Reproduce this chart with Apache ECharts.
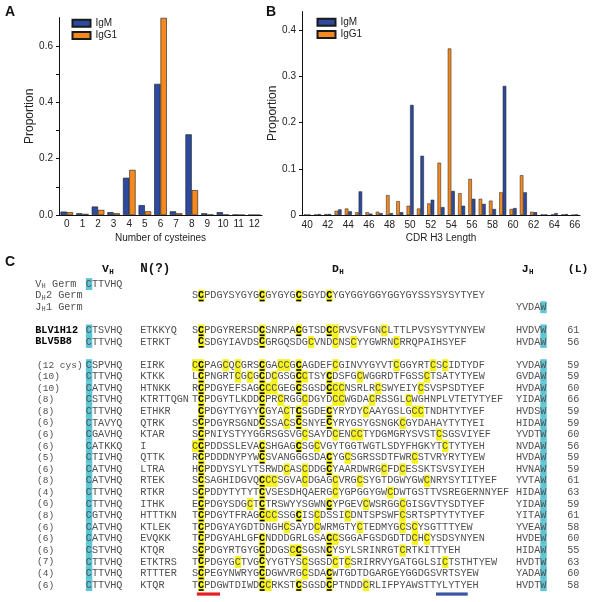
<!DOCTYPE html>
<html><head><meta charset="utf-8">
<script src="https://cdn.jsdelivr.net/npm/echarts@6/dist/echarts.min.js"></script>
<style>html,body{margin:0;padding:0;background:#fff}#c{width:597px;height:602px}</style>
</head><body><div id="c"></div>
<script>
// ---------- Panel A data ----------
const cysCategories = ['0','1','2','3','4','5','6','7','8','9','10','11','12'];
const cysIgM  = [0.012,0.006,0.030,0.010,0.132,0.035,0.465,0.013,0.286,0.006,0.010,0.001,0.000];
const cysIgG1 = [0.010,0.004,0.018,0.006,0.160,0.013,0.699,0.006,0.088,0.001,0.001,0.000,0.000];

// ---------- Panel B data ----------
const lenCategories = ['40','41','42','43','44','45','46','47','48','49','50','51','52','53','54','55','56','57','58','59','60','61','62','63','64','65','66'];
const lenIgM  = [0.001,0.002,0.002,0.012,0.008,0.051,0.003,0.004,0.004,0.006,0.238,0.128,0.033,0.017,0.052,0.020,0.035,0.024,0.013,0.279,0.015,0.049,0.006,0.001,0.004,0.002,0.001];
const lenIgG1 = [0.001,0.001,0.002,0.009,0.014,0.006,0.006,0.007,0.043,0.030,0.020,0.014,0.025,0.113,0.360,0.047,0.078,0.035,0.031,0.049,0.013,0.086,0.007,0.001,0.001,0.001,0.000];

// ---------- Panel C data ----------
const germLabels = [['V','H',' Germ'],['D','H','2 Germ'],['J','H','1 Germ']];
const germVH = 'CTTVHQ';
const germDH = 'SCPDGYSYGYGCGYGYGCSGYDCYGYGGYGGYGGYGYSSYSYSYTYEY';
const germJH = 'YVDAW';
const blvNames = ['BLV1H12','BLV5B8'];
const blvVH = ['CTSVHQ','CTTVHQ'];
const blvN  = ['ETKKYQ','ETRKT'];
const blvDH = ['SCPDGYRERSDCSNRPACGTSDCCRVSVFGNCLTTLPVSYSYTYNYEW',' CSDGYIAVDSCGRGQSDGCVNDCNSCYYGWRNCRRQPAIHSYEF'];
const blvJH = ['HVDVW','HVDAW'];
const blvL  = ['61','56'];
const cLabels = ['(12 cys)','(10)','(10)','(8)','(8)','(6)','(6)','(6)','(5)','(6)','(8)','(4)','(6)','(8)','(6)','(6)','(6)','(7)','(4)','(6)'];
const cVH = ['CSPVHQ','CTTVHQ','CATVHQ','CSTVHQ','CTTVHQ','CTAVYQ','CGAVHQ','CATKKQ','CTIVHQ','CATVHQ','CATVHQ','CTTVHQ','CTTVHQ','CGTVHQ','CATVHQ','CATVHQ','CSTVHQ','CTTVHQ','CTTVHQ','CTTVHQ'];
const cN = ['EIRK','KTKK','HTNKK','KTRTTQGN','ETHKR','QTRK','KTAR','I','QTTK','LTRA','RTEK','RTKR','ITHK','HTTTKN','KTLEK','EVQKK','KTQR','ETKTRS','RTTTER','KTQR'];
const cDH = [
'CCPAGCQCGRSCGACCGCAGDEFCGINVYGYVTCGGYRTCSCIDTYDF',
'LCPNGRTCGCGCDCGSGCCTSYCDSFGCWGGRDTFGSSCTSATYTYEW',
'RCPDGYEFSAGCCCGEGCSGSDCCCNSRLRCSWYEIYCSVSPSDTYEF',
'TCPDGYTLKDDCPRCRGGCDGYDCCWGDACRSSGLCWGHNPLVTETYTYEF',
' CPDGYTYGYYCGYACTCSGDECYRYDYCAAYGSLGCCTNDHTYTYEF',
'SCPDGYRSGNDCSSACSCSNYECYRYGSYGSNGKCGYDAHAYTYTYEI',
'SCPNIYSTYYGGRSGSVGCSAYDCENCCTYDGMGRYSVSTCSGSVIYEF',
'CCPDDSSLEVACSHGAGCSGCVGYTGGTWGTLSDYFHGKYTCTYTYEH',
'RCPDDDNYPYWCSVANGGGSDACYGCSGRSSDTFWRCSTVRYRYTYEW',
'HCPDDYSYLYTSRWDCASCDDGCYAARDWRGCFDCESSKTSVSYIYEH',
'SCSAGHIDGVQCCCSGVACDGAGCVRGCSYGTDGWYGWCNRYSYTITYEF',
'SCPDDYTYTYTCVSESDHQAERGCYGPGGYGWCDWTGSTTVSREGERNNYEF',
'ECPDGYSDGCTCTRSWYYSGWNCYPGEVCWSRGGCGISGVTYSDTYEF',
'TCPDGYTFRAGCCCSSGCISCDSSICDNTSPSWFCSRTSPTYTYTYEF',
'TCPDGYAYGDTDNGHCSAYDCWRMGTYCTEDMYGCSCYSGTTTYEW',
'TCPDGYAHLGFCNDDDGRLGSACCSGGAFGSDGDTDCHCYSDSYNYEN',
'SCPDGYRTGYGCDDGSCCSGSNCYSYLSRINRGTCRTKITTYEH',
'TCPDGYGCTVGCYYGTYSCSGSDCTCSRIRRVYGATGGLSICTSTHTYEW',
'SCPEGYNWRYGCDGWVRGCSDACWTGDTDGARGEYGGDGSVRTSYEW',
'TCPDGWTDIWDCCRKSTCSGSDCPTNDDCRLIFPYAWSTTYLYTYEH'
];
const cJH = ['YVDAW','GVDAW','HVDAW','YIDAW','HVDSW','HIDAW','YVDTW','NVDAW','HVDAW','HVNAW','YVTAW','HIDAW','YIDAW','YITAW','YVEAW','HVDEW','HIDAW','HVDTW','YADAW','HVDTW'];
const cL = ['59','59','60','66','59','59','60','56','59','59','61','63','59','61','58','60','55','63','60','58'];
const conservedCols = [1,11,17,22];

// ---------- styling / layout ----------
const BLUE = '#2d4a9e', ORANGE = '#f5891f', YEL = '#f6f21a', CYAN = '#5ec5d5', GRAY = '#505050';
const MONO = '"Liberation Mono","DejaVu Sans Mono",monospace';
const SANS = '"Liberation Sans",Arial,sans-serif';
const COL = {lab:-25.7, rowLab:-25.4, vh:-17.4, n:-8.5, dh:0, jh:53.1, L:61.5};

const cItems = [];
cItems.push({kind:'hdr', y:-8.3});
cItems.push({kind:'germ', y:-7, lab:germLabels[0], vh:germVH});
cItems.push({kind:'germ', y:-6, lab:germLabels[1], dh:germDH});
cItems.push({kind:'germ', y:-5, lab:germLabels[2], jh:germJH});
blvNames.forEach((nm,i)=>cItems.push({kind:'blv', y:-3+i, name:nm, vh:blvVH[i], n:blvN[i], dh:blvDH[i], jh:blvJH[i], L:blvL[i]}));
cLabels.forEach((lab,i)=>cItems.push({kind:'row', y:i, name:lab, vh:cVH[i], n:cN[i], dh:cDH[i], jh:cJH[i], L:cL[i]}));
cItems.push({kind:'motif', y:19.78});

function renderC(params, api){
  const it = cItems[api.value(2)];
  const y = api.value(1);
  const sz = api.size([1,1]);
  const cwp = sz[0], rh = sz[1];
  const X = c => api.coord([c, y])[0];
  const yc = api.coord([0, y])[1];
  const ch = [];
  const txt = (x, s, font, fill, align, dy) => ch.push({type:'text', z2:10, x:x, y:yc+(dy||0),
      style:{text:s, font:font, fill:fill, align:align||'left', verticalAlign:'middle'}});
  const box = (c, fill) => ch.push({type:'rect', z2:1, shape:{x:X(c), y:yc-rh/2, width:cwp+0.3, height:rh+0.3}, style:{fill:fill}});
  const seqF = '10.2px ' + MONO, boldF = 'bold 10.2px ' + MONO;
  function seq(str, c0, mode){
    for (let i=0;i<str.length;i++){
      const s = str[i]; if (s === ' ') continue;
      const c = c0 + i;
      if (mode === 'dh' && s === 'C'){
        box(c, YEL);
        if (conservedCols.indexOf(i) >= 0){
          txt(X(c+0.5), s, boldF, '#000', 'center');
          ch.push({type:'line', z2:11, shape:{x1:X(c)+0.6, y1:yc+5, x2:X(c+1)-0.6, y2:yc+5}, style:{stroke:'#000', lineWidth:1.6}});
          continue;
        }
      }
      if (mode === 'vh' && i === 0) box(c, CYAN);
      if (mode === 'jh' && i === str.length-1) box(c, CYAN);
      txt(X(c+0.5), s, seqF, GRAY, 'center');
    }
  }
  const hdrF = 'bold 11.5px ' + MONO, subF = 'bold 7.5px ' + MONO;
  if (it.kind === 'hdr'){
    txt(X(-14.75), 'V', hdrF, '#111'); txt(X(-14.75)+7.2, 'H', subF, '#111', 'left', 3);
    txt(X(-8.5), 'N(?)', 'bold 12.5px ' + MONO, '#111');
    txt(X(22.95), 'D', hdrF, '#111'); txt(X(22.95)+7.2, 'H', subF, '#111', 'left', 3);
    txt(X(54.05), 'J', hdrF, '#111'); txt(X(54.05)+7.2, 'H', subF, '#111', 'left', 3);
    txt(X(61.6), '(L)', hdrF, '#111');
  } else if (it.kind === 'germ'){
    const x0 = X(COL.lab);
    txt(x0, it.lab[0], seqF, GRAY); txt(x0+6.3, it.lab[1], '7px ' + MONO, GRAY, 'left', 2.5);
    txt(X(COL.lab+1.75), it.lab[2], seqF, GRAY);
    if (it.vh) seq(it.vh, COL.vh, 'vh');
    if (it.dh) seq(it.dh, COL.dh, 'dh');
    if (it.jh) seq(it.jh, COL.jh, 'jh');
  } else if (it.kind === 'blv' || it.kind === 'row'){
    if (it.kind === 'blv') txt(X(COL.lab), it.name, boldF, '#000');
    else txt(X(COL.rowLab), it.name, '9.5px ' + MONO, GRAY);
    seq(it.vh, COL.vh, 'vh');
    seq(it.n, COL.n, 'n');
    seq(it.dh, COL.dh, 'dh');
    seq(it.jh, COL.jh, 'jh');
    txt(X(COL.L), it.L, seqF, GRAY);
  } else if (it.kind === 'motif'){
    ch.push({type:'rect', shape:{x:X(0.8), y:yc-1.6, width:X(4.6)-X(0.8), height:3.2}, style:{fill:'#e31e24'}});
    ch.push({type:'rect', shape:{x:X(40), y:yc-1.6, width:X(45.2)-X(40), height:3.2}, style:{fill:'#3a53a4'}});
  }
  return {type:'group', children:ch};
}

const axisTxt = {fontSize:10, fontFamily:SANS, color:'#222'};
const lineBlack = {lineStyle:{color:'#111', width:1}};

const option = {
  animation:false,
  backgroundColor:'#fff',
  textStyle:{fontFamily:SANS},
  grid:[
    {left:59, top:17.6, width:203, height:197.4, outerBoundsMode:'none', containLabel:false},
    {left:302, top:11.5, width:278, height:203.5, outerBoundsMode:'none', containLabel:false},
    {left:33.4, top:260.78, width:561.2, height:335.82, outerBoundsMode:'none', containLabel:false}
  ],
  xAxis:[
    {type:'category', gridIndex:0, data:cysCategories, axisLine:lineBlack,
     axisTick:{alignWithLabel:true, length:3, lineStyle:{color:'#111'}},
     axisLabel:Object.assign({margin:4}, axisTxt),
     name:'Number of cysteines', nameLocation:'middle', nameGap:18, nameTextStyle:{fontSize:10, fontFamily:SANS, color:'#222'}},
    {type:'category', gridIndex:1, data:lenCategories, axisLine:lineBlack,
     axisTick:{alignWithLabel:true, length:2, interval:1, lineStyle:{color:'#111'}},
     axisLabel:Object.assign({margin:5, interval:1}, axisTxt),
     name:'CDR H3 Length', nameLocation:'middle', nameGap:18, nameTextStyle:{fontSize:10, fontFamily:SANS, color:'#222'}},
    {type:'value', gridIndex:2, min:-26, max:66, show:false}
  ],
  yAxis:[
    {type:'value', gridIndex:0, min:0, max:0.7, interval:0.1, splitLine:{show:false},
     axisLine:Object.assign({show:true}, lineBlack), axisTick:{show:true, length:3, lineStyle:{color:'#111'}},
     axisLabel:Object.assign({margin:6, showMaxLabel:false, formatter:v => (Math.round(v*10)%2===0 ? v.toFixed(1) : '')}, axisTxt),
     name:'Proportion', nameLocation:'middle', nameGap:22, nameTextStyle:{fontSize:12, fontFamily:SANS, color:'#222'}},
    {type:'value', gridIndex:1, min:0, max:0.44, interval:0.1, splitLine:{show:false},
     axisLine:Object.assign({show:true}, lineBlack), axisTick:{show:true, length:3, lineStyle:{color:'#111'}},
     axisLabel:Object.assign({margin:6, showMaxLabel:false, formatter:v => (v===0 ? '0' : String(Math.round(v*10)/10))}, axisTxt),
     name:'Proportion', nameLocation:'middle', nameGap:22, nameTextStyle:{fontSize:12, fontFamily:SANS, color:'#222'}},
    {type:'value', gridIndex:2, min:-9, max:20, inverse:true, show:false}
  ],
  legend:[
    {data:['IgM','IgG1'], orient:'vertical', left:71.5, top:18.3, itemWidth:18, itemHeight:7, itemGap:2.2, padding:0,
     icon:'rect', selectedMode:false, textStyle:{fontSize:10, fontFamily:SANS, color:'#222', lineHeight:8}},
    {data:['IgM','IgG1'], orient:'vertical', left:316.5, top:17.3, itemWidth:18, itemHeight:7, itemGap:2.2, padding:0,
     icon:'rect', selectedMode:false, textStyle:{fontSize:10, fontFamily:SANS, color:'#222', lineHeight:8}}
  ],
  graphic:[
    {type:'text', left:5, top:5, style:{text:'A', font:'bold 14px ' + SANS, fill:'#111'}},
    {type:'text', left:266, top:5, style:{text:'B', font:'bold 14px ' + SANS, fill:'#111'}},
    {type:'text', left:5, top:255, style:{text:'C', font:'bold 14px ' + SANS, fill:'#111'}}
  ],
  series:[
    {name:'IgM', type:'bar', xAxisIndex:0, yAxisIndex:0, data:cysIgM, barWidth:6.3, barGap:'0%',
     itemStyle:{color:BLUE, borderColor:'#1a1a1a', borderWidth:0.6}},
    {name:'IgG1', type:'bar', xAxisIndex:0, yAxisIndex:0, data:cysIgG1, barWidth:6.3, barGap:'0%',
     itemStyle:{color:ORANGE, borderColor:'#1a1a1a', borderWidth:0.6}},
    {name:'IgG1', type:'bar', xAxisIndex:1, yAxisIndex:1, data:lenIgG1, barWidth:3.5, barGap:'0%',
     itemStyle:{color:ORANGE, borderColor:'#1a1a1a', borderWidth:0.5}},
    {name:'IgM', type:'bar', xAxisIndex:1, yAxisIndex:1, data:lenIgM, barWidth:3.5, barGap:'0%',
     itemStyle:{color:BLUE, borderColor:'#1a1a1a', borderWidth:0.5}},
    {type:'custom', name:'alignment', xAxisIndex:2, yAxisIndex:2, coordinateSystem:'cartesian2d',
     data:cItems.map((it,i)=>[0, it.y, i]), encode:{x:0, y:1}, renderItem:renderC, clip:false, silent:true}
  ]
};
const chart = echarts.init(document.getElementById('c'));
chart.setOption(option);
</script>
</body></html>
